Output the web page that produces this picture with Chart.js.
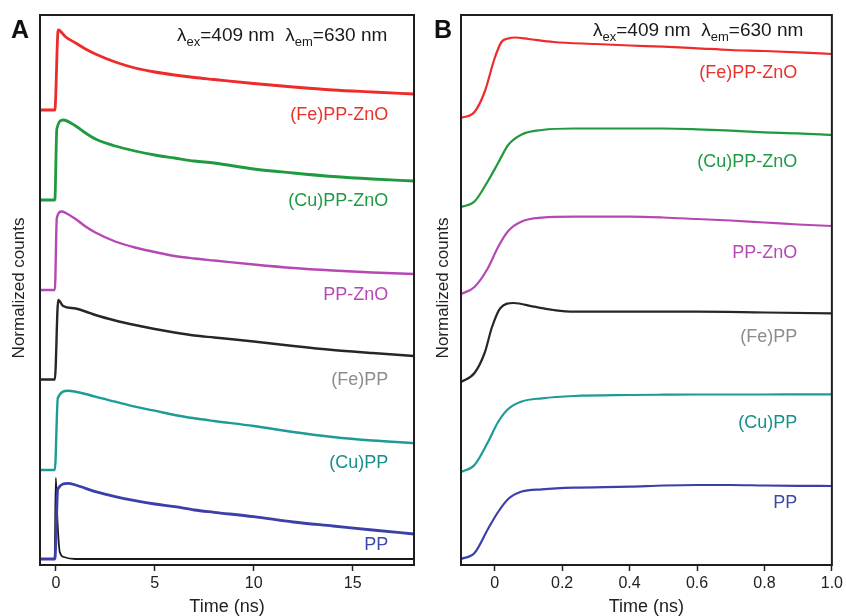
<!DOCTYPE html>
<html lang="en">
<head>
<meta charset="UTF-8">
<title>Time-resolved fluorescence</title>
<script src="https://cdn.jsdelivr.net/npm/chart.js@4/dist/chart.umd.min.js"></script>
<style>
  html, body { margin: 0; padding: 0; background: #fff; }
  #wrap { position: relative; width: 846px; height: 616px; overflow: hidden; }
  canvas { position: absolute; top: 0; }
  #chartA { left: 0; }
  #chartB { left: 423px; }
</style>
</head>
<body>
<div id="wrap">
  <canvas id="chartA" width="423" height="616"></canvas>
  <canvas id="chartB" width="423" height="616"></canvas>
</div>
<script>
// ---- panel A (0-18 ns decays, stacked with offsets) ----
const ticksA = [0, 5, 10, 15];

const timeA_FeZnO   = [-0.8, -0.05, 0.12, 0.5, 1, 1.5, 2, 3, 4, 5, 6, 7, 8, 10, 12, 14, 16, 18.1];
const countsA_FeZnO = [45.5, 45.5, 53.5, 52.8, 52.2, 51.6, 51.1, 50.3, 49.7, 49.3, 49.0, 48.75, 48.55, 48.15, 47.8, 47.5, 47.3, 47.1];

const timeA_CuZnO   = [-0.8, -0.05, 0.05, 0.37, 1, 1.5, 2, 3, 4, 5, 6, 7, 8, 10, 12, 14, 16, 18.1];
const countsA_CuZnO = [36.5, 36.5, 43.6, 44.5, 43.9, 43.2, 42.6, 41.9, 41.4, 41.0, 40.7, 40.4, 40.2, 39.6, 39.2, 38.85, 38.6, 38.4];

const timeA_ZnO   = [-0.8, -0.05, 0.05, 0.29, 0.5, 1, 1.5, 2, 3, 4, 5, 6, 7, 8, 10, 12, 14, 16, 18.1];
const countsA_ZnO = [27.5, 27.5, 34.7, 35.35, 35.2, 34.6, 33.85, 33.25, 32.35, 31.75, 31.3, 30.9, 30.65, 30.45, 30.05, 29.7, 29.45, 29.25, 29.1];

const timeA_Fe   = [-0.8, -0.05, 0.12, 0.37, 1, 1.5, 2, 3, 4, 5, 6, 7, 8, 10, 12, 14, 16, 18.1];
const countsA_Fe = [18.55, 18.55, 26.5, 25.9, 25.65, 25.35, 25.0, 24.45, 24.0, 23.6, 23.25, 22.95, 22.75, 22.35, 21.9, 21.5, 21.2, 20.9];

const timeA_Cu   = [-0.8, -0.05, 0.1, 0.62, 1, 1.5, 2, 3, 4, 5, 6, 7, 8, 10, 12, 14, 16, 18.1];
const countsA_Cu = [9.5, 9.5, 16.7, 17.43, 17.33, 17.1, 16.83, 16.33, 15.83, 15.43, 15.0, 14.67, 14.4, 13.9, 13.3, 12.8, 12.45, 12.2];

const timeA_PP   = [-0.8, -0.05, 0.1, 0.62, 1, 1.5, 2, 3, 4, 5, 6, 7, 8, 10, 12, 14, 16, 18.1];
const countsA_PP = [0.6, 0.6, 7.6, 8.17, 8.0, 7.67, 7.33, 6.83, 6.43, 6.1, 5.83, 5.5, 5.27, 4.83, 4.3, 3.9, 3.5, 3.1];

const timeA_IRF   = [-0.8, -0.06, 0, 0.08, 0.2, 0.4, 1, 18.1];
const countsA_IRF = [0.6, 0.6, 8.7, 4.5, 1.3, 0.8, 0.6, 0.6];

// ---- panel B (first nanosecond, rise) ----
const ticksB = [0, 0.2, 0.4, 0.6, 0.8, 1.0];

const timeB_FeZnO   = [-0.1, -0.06, -0.03, 0, 0.02, 0.04, 0.06, 0.1, 0.175, 0.3, 0.4, 0.5, 0.6, 0.7, 0.8, 0.9, 1.0];
const countsB_FeZnO = [44.7, 45.3, 47.3, 50.7, 52.3, 52.65, 52.75, 52.6, 52.3, 52.1, 51.95, 51.83, 51.67, 51.5, 51.4, 51.27, 51.1];

const timeB_rise    = [-0.1, -0.06, -0.02, 0.01, 0.04, 0.08, 0.14, 0.235, 0.4, 0.5, 0.6, 0.7, 0.8, 0.9, 1.0];
const countsB_CuZnO = [35.8, 36.35, 38.4, 40.2, 42.0, 43.05, 43.5, 43.65, 43.65, 43.65, 43.57, 43.43, 43.27, 43.17, 43.0];
const countsB_ZnO   = [27.1, 27.8, 29.7, 31.8, 33.4, 34.35, 34.73, 34.83, 34.83, 34.75, 34.6, 34.45, 34.25, 34.05, 33.9];
const countsB_Cu    = [9.3, 10.0, 12.3, 14.3, 15.6, 16.35, 16.67, 16.9, 17.0, 17.03, 17.05, 17.05, 17.05, 17.06, 17.07];
const countsB_PP    = [0.6, 1.2, 3.6, 5.3, 6.6, 7.35, 7.57, 7.73, 7.83, 7.95, 8.0, 8.0, 7.95, 7.92, 7.9];

const timeB_Fe   = [-0.1, -0.06, -0.03, -0.008, 0.017, 0.056, 0.116, 0.175, 0.235, 0.4, 0.6, 0.8, 1.0];
const countsB_Fe = [18.3, 19.2, 21.2, 23.8, 25.7, 26.2, 25.83, 25.5, 25.33, 25.33, 25.33, 25.25, 25.17];

const sampleNames = ['(Fe)PP-ZnO', '(Cu)PP-ZnO', 'PP-ZnO', '(Fe)PP', '(Cu)PP', 'PP'];

const FONT = '"Liberation Sans", Arial, Helvetica, sans-serif';
const lineColors  = ['#ee2b2b', '#1f9a3f', '#b548b5', '#262626', '#1c9b97', '#3b40a8'];
const labelColors = ['#e8332d', '#1f9a45', '#b548b5', '#8c8c8c', '#178f8b', '#3b48aa'];

const pts = (xs, ys) => xs.map((t, i) => ({ x: t, y: ys[i] }));

function series(label, xs, ys, color, width) {
  return {
    label, data: pts(xs, ys), borderColor: color, borderWidth: width,
    pointRadius: 0, fill: false, cubicInterpolationMode: 'monotone',
  };
}

// frame, curve labels, header, panel letter, axis titles
const decor = {
  id: 'decor',
  afterDraw(chart, args, o) {
    const { ctx, chartArea: a, scales: { x, y } } = chart;
    ctx.save();
    ctx.strokeStyle = '#1e1e1e';
    ctx.lineWidth = 2;
    ctx.strokeRect(a.left, a.top, a.right - a.left, a.bottom - a.top);

    ctx.textAlign = 'right';
    ctx.textBaseline = 'middle';
    ctx.font = '18px ' + FONT;
    o.labels.forEach((l, i) => {
      ctx.fillStyle = labelColors[i];
      ctx.fillText(sampleNames[i], x.getPixelForValue(o.labelX), y.getPixelForValue(l));
    });

    // λex=409 nm  λem=630 nm
    ctx.textAlign = 'left';
    ctx.textBaseline = 'alphabetic';
    ctx.fillStyle = '#1a1a1a';
    let hx = a.left + o.headerDx;
    const hy = o.headerY;
    const parts = [['λ', 19, 0], ['ex', 13, 5], ['=409 nm  ', 19, 0], ['λ', 19, 0], ['em', 13, 5], ['=630 nm', 19, 0]];
    parts.forEach(([s, sz, dy]) => {
      ctx.font = sz + 'px ' + FONT;
      ctx.fillText(s, hx, hy + dy);
      hx += ctx.measureText(s).width;
    });

    ctx.font = 'bold 25px ' + FONT;
    ctx.fillStyle = '#111';
    ctx.fillText(o.letter, 11, 38);

    ctx.font = '18px ' + FONT;
    ctx.textAlign = 'center';
    ctx.textBaseline = 'middle';
    ctx.fillStyle = '#222';
    ctx.fillText('Time (ns)', (a.left + a.right) / 2, 607);

    ctx.translate(o.yTitleX, 288);
    ctx.rotate(-Math.PI / 2);
    ctx.font = '17px ' + FONT;
    ctx.fillText('Normalized counts', 0, 0);
    ctx.restore();
  }
};

function makeChart(id, datasets, xMin, xMax, ticks, fmt, pad, deco) {
  return new Chart(document.getElementById(id), {
    type: 'line',
    data: { datasets },
    options: {
      responsive: false, animation: false, events: [],
      layout: { padding: pad },
      plugins: { legend: { display: false }, tooltip: { enabled: false }, decor: deco },
      scales: {
        x: {
          type: 'linear', min: xMin, max: xMax,
          afterBuildTicks: s => { s.ticks = ticks.map(v => ({ value: v })); },
          afterFit: s => { s.height = 51; },
          grid: { drawOnChartArea: false, tickLength: 6, tickColor: '#222', tickWidth: 1.5 },
          border: { display: false },
          ticks: { color: '#222', font: { size: 16, family: FONT }, padding: 3, maxRotation: 0, callback: fmt },
        },
        y: { type: 'linear', min: 0, max: 55, display: false },
      },
    },
    plugins: [decor],
  });
}

makeChart('chartA', [
  series(sampleNames[0], timeA_FeZnO, countsA_FeZnO, lineColors[0], 2.8),
  series(sampleNames[1], timeA_CuZnO, countsA_CuZnO, lineColors[1], 2.8),
  series(sampleNames[2], timeA_ZnO, countsA_ZnO, lineColors[2], 2.4),
  series(sampleNames[3], timeA_Fe, countsA_Fe, lineColors[3], 2.4),
  series(sampleNames[4], timeA_Cu, countsA_Cu, lineColors[4], 2.4),
  series(sampleNames[5], timeA_PP, countsA_PP, lineColors[5], 2.8),
  series('IRF', timeA_IRF, countsA_IRF, '#1a1a1a', 1.8),
], -0.8, 18.1, ticksA, v => String(v),
  { left: 40, right: 9, top: 15, bottom: 0 },
  { letter: 'A', labelX: 16.8, labels: [45.0, 36.4, 27.0, 18.5, 10.2, 2.0], headerDx: 137, headerY: 41, yTitleX: 19 });

makeChart('chartB', [
  series(sampleNames[0], timeB_FeZnO, countsB_FeZnO, lineColors[0], 2.2),
  series(sampleNames[1], timeB_rise, countsB_CuZnO, lineColors[1], 2.2),
  series(sampleNames[2], timeB_rise, countsB_ZnO, lineColors[2], 2.2),
  series(sampleNames[3], timeB_Fe, countsB_Fe, lineColors[3], 2.2),
  series(sampleNames[4], timeB_rise, countsB_Cu, lineColors[4], 2.2),
  series(sampleNames[5], timeB_rise, countsB_PP, lineColors[5], 2.2),
], -0.1, 1.0, ticksB, v => (v === 0 ? '0' : v.toFixed(1)),
  { left: 38, right: 13, top: 15, bottom: 0 },
  { letter: 'B', labelX: 0.897, labels: [49.2, 40.3, 31.2, 22.8, 14.2, 6.2], headerDx: 132, headerY: 36, yTitleX: 20 });
</script>
</body>
</html>
